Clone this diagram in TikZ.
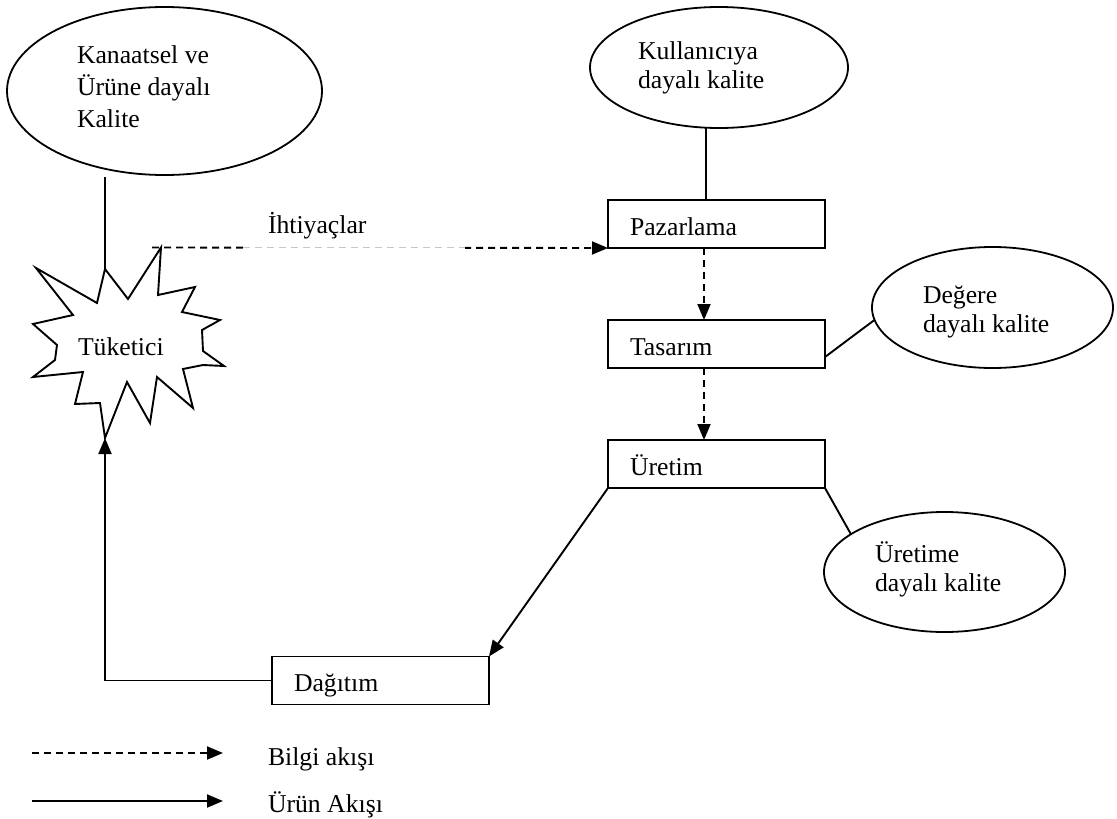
\documentclass[tikz,border=0pt]{standalone}
\usepackage{fontspec}
\setmainfont{Liberation Serif}
\usetikzlibrary{arrows.meta,shapes.geometric,calc}

\begin{document}
\begin{tikzpicture}[x=1pt,y=-1pt,
  line width=1.9pt, line join=miter,
  every node/.style={font=\fontsize{25.7}{29}\selectfont, inner sep=0pt, outer sep=0pt},
  bubble/.style={draw, ellipse, line width=1.8pt, inner sep=0pt},
  stage/.style={draw, rectangle, minimum width=217pt, minimum height=48pt,
    text width=173pt, inner xsep=22pt, inner ysep=0pt, align=left,
    text height=35pt, text depth=13pt},
  words/.style={align=left, anchor=north west},
  tip/.style={-{Triangle[length=16pt,width=13pt]}},
  info/.style={tip, dash pattern=on 7pt off 5pt},
  goods/.style={tip}]

\useasboundingbox (0,0) rectangle (1117,819);

% quality views (ellipses)
\node[bubble, minimum width=315pt, minimum height=168pt] (kan) at (164.5,91) {};
\node[words, font=\fontsize{25.7}{32}\selectfont] (kan-t) at (77,40.6)
  {\strut Kanaatsel ve\\\strut Ürüne dayalı\\\strut Kalite};
\node[bubble, minimum width=258pt, minimum height=121pt] (kul) at (719,67.5) {};
\node[words] (kul-t) at (638,38.7) {\strut Kullanıcıya\\\strut dayalı kalite};
\node[bubble, minimum width=241pt, minimum height=121pt] (deg) at (992.5,307.5) {};
\node[words] (deg-t) at (923,283) {\strut Değere\\\strut dayalı kalite};
\node[bubble, minimum width=241pt, minimum height=120pt] (uret) at (944.5,572) {};
\node[words] (uret-t) at (875,542) {\strut Üretime\\\strut dayalı kalite};

% process stages
\node[stage] (paz) at (716.5,224) {Pazarlama};
\node[stage] (tas) at (716.5,344) {Tasarım};
\node[stage] (ure) at (716.5,464) {Üretim};
\node[stage] (dag) at (380.5,680.5) {Dağıtım};

% consumer starburst
\coordinate (tuk-top) at (105,269);
\coordinate (tuk-ne) at (161,247.5);
\coordinate (tuk-bot) at (105,438);
\draw (tuk-top) -- (128,299) -- (tuk-ne) -- (158,295) -- (195,287) -- (182,312)
  -- (220,320) -- (202,330) -- (203,351) -- (224,366) -- (203,365) -- (183,369)
  -- (193,408) -- (157,377) -- (150,423) -- (127,382) -- (tuk-bot) -- (100,403)
  -- (75,404) -- (83,372) -- (33,377) -- (55,360) -- (57,345) -- (33,324)
  -- (73,315) -- (36,268) -- (97,303) -- cycle;
\node[anchor=base west] (tuk) at (78,355) {Tüketici};

% plain links between views and stages
\draw ([yshift=-2pt]tuk-top |- kan.south) -- (tuk-top);
\draw ([xshift=-13pt]kul.south) -- ([xshift=-10.5pt]paz.north);
\draw ([yshift=-13pt]tas.east) -- (deg.186);
\draw (ure.south east) -- (uret.158);

% information flow
\draw[info] ([xshift=-9pt]tuk-ne) -- (paz.south west);
\draw[white, line width=3pt] (243,247.5) -- (465,247.5);
\draw[black!22, line width=1.4pt, dash pattern=on 7pt off 5pt] (243,247.5) -- (465,247.5);
\node[anchor=base west] (need) at (268,233) {İhtiyaçlar};
\draw[info] ([xshift=-12.5pt]paz.south) -- ([xshift=-12.5pt]tas.north);
\draw[info] ([xshift=-12.5pt]tas.south) -- ([xshift=-12.5pt]ure.north);

% product flow
\draw[goods] (ure.south west) -- (dag.north east);
\draw[goods] (dag.west) -| (tuk-bot);

% legend
\coordinate (l1a) at (32,753);
\coordinate (l1b) at (223,753);
\coordinate (l2a) at (32,801);
\coordinate (l2b) at (223,801);
\draw[info] (l1a) -- (l1b);
\draw[goods] (l2a) -- (l2b);
\node[anchor=base west] (l1t) at (268,765) {Bilgi akışı};
\node[anchor=base west] (l2t) at (268,812) {Ürün Akışı};
\end{tikzpicture}
\end{document}
